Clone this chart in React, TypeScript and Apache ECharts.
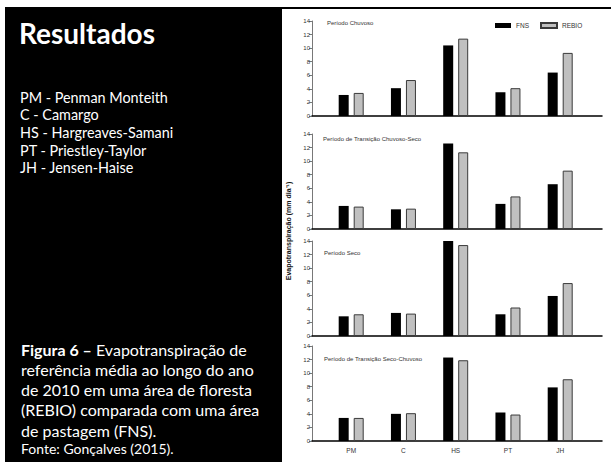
import React, { useEffect, useRef } from 'react';
import * as echarts from 'echarts';

// Métodos de estimativa da evapotranspiração de referência
const methods = ['PM', 'C', 'HS', 'PT', 'JH'];
const periods = [
  'Período Chuvoso',
  'Período de Transição Chuvoso-Seco',
  'Período Seco',
  'Período de Transição Seco-Chuvoso',
];

// ETo média (mm dia-1) por período: FNS (pastagem) e REBIO (floresta)
const fnsChuvoso = [3.1, 4.1, 10.4, 3.5, 6.4];
const rebioChuvoso = [3.4, 5.3, 11.4, 4.1, 9.3];
const fnsChuvosoSeco = [3.4, 2.9, 12.6, 3.7, 6.6];
const rebioChuvosoSeco = [3.3, 3.0, 11.3, 4.8, 8.6];
const fnsSeco = [2.9, 3.4, 14.0, 3.2, 5.9];
const rebioSeco = [3.2, 3.3, 13.4, 4.2, 7.8];
const fnsSecoChuvoso = [3.4, 4.0, 12.3, 4.2, 7.9];
const rebioSecoChuvoso = [3.4, 4.1, 11.9, 3.9, 9.1];

const fnsByPeriod = [fnsChuvoso, fnsChuvosoSeco, fnsSeco, fnsSecoChuvoso];
const rebioByPeriod = [rebioChuvoso, rebioChuvosoSeco, rebioSeco, rebioSecoChuvoso];

const methodNames = [
  'PM - Penman Monteith',
  'C - Camargo',
  'HS - Hargreaves-Samani',
  'PT - Priestley-Taylor',
  'JH - Jensen-Haise',
];

const captionLines = [
  '{b|Figura 6 –} Evapotranspiração de',
  'referência média ao longo do ano',
  'de 2010 em uma área de floresta',
  '(REBIO) comparada com uma área',
  'de pastagem (FNS).',
];

const yTickValues = [0, 2, 4, 6, 8, 10, 12, 14];

const CHART_FONT = 'Liberation Sans, Arial, sans-serif';
const SLIDE_FONT = 'Lato, "Open Sans", sans-serif';

const gridTops = [21, 134, 241, 346];
const gridHeight = 95;
const titleTops = [20, 136, 250, 356];
const titleLefts = [327, 323, 324, 324];

export default function App() {
  const ref = useRef<HTMLDivElement>(null);

  useEffect(() => {
    if (!ref.current) return;
    const chart = echarts.init(ref.current, undefined, { renderer: 'svg' });

    const grids = gridTops.map((top) => ({ left: 312, right: 9, top, height: gridHeight }));

    const xAxes = gridTops.map((_, i) => ({
      type: 'value',
      gridIndex: i,
      min: 0.25,
      max: 5.8,
      splitLine: { show: false },
      axisTick: { show: false },
      axisLine: { onZero: false, lineStyle: { color: '#000', width: 1.5 } },
      axisLabel: {
        show: i === gridTops.length - 1,
        customValues: [1, 2, 3, 4, 5],
        formatter: (v: number) => methods[Math.round(v) - 1] ?? '',
        fontSize: 6.5,
        color: '#333',
        fontFamily: CHART_FONT,
        margin: 6,
      },
    }));

    const yAxes = gridTops.map((_, i) => ({
      type: 'value',
      gridIndex: i,
      min: yTickValues[0],
      max: yTickValues[yTickValues.length - 1],
      interval: 2,
      splitLine: { show: false },
      axisLine: { show: true, onZero: false, lineStyle: { color: '#555', width: 0.8 } },
      axisTick: { show: true, length: 3, lineStyle: { color: '#555', width: 0.8 } },
      axisLabel: { fontSize: 6, color: '#333', fontFamily: CHART_FONT, margin: 2 },
    }));

    const series: any[] = [];
    gridTops.forEach((_, i) => {
      series.push({
        type: 'bar',
        name: 'FNS',
        xAxisIndex: i,
        yAxisIndex: i,
        barWidth: 10,
        barGap: '50%',
        itemStyle: { color: '#000' },
        data: fnsByPeriod[i].map((v, k) => [k + 1, v]),
      });
      series.push({
        type: 'bar',
        name: 'REBIO',
        xAxisIndex: i,
        yAxisIndex: i,
        barWidth: 10,
        barGap: '50%',
        itemStyle: { color: '#c0c0c0', borderColor: '#3a3a3a', borderWidth: 1 },
        data: rebioByPeriod[i].map((v, k) => [k + 1, v]),
      });
    });

    const titles = periods.map((text, i) => ({
      text,
      left: titleLefts[i],
      top: titleTops[i],
      padding: 0,
      textStyle: { fontSize: 6, fontWeight: 'normal', color: '#333', fontFamily: CHART_FONT },
    }));

    const graphics: any[] = [
      // slide background and figure panel
      { type: 'rect', z: -100, silent: true, shape: { x: 5, y: 7, width: 606, height: 455 }, style: { fill: '#000' } },
      { type: 'rect', z: -90, silent: true, shape: { x: 282, y: 9, width: 329, height: 453 }, style: { fill: '#fff' } },
      {
        type: 'text',
        z: 10,
        x: 19,
        y: 33,
        style: {
          text: 'Resultados',
          fill: '#fff',
          font: `bold 28px ${SLIDE_FONT}`,
          textVerticalAlign: 'middle',
        },
      },
      ...methodNames.map((t, i) => ({
        type: 'text',
        z: 10,
        x: 20,
        y: 97 + i * 17.7,
        style: { text: t, fill: '#fff', font: `14.4px ${SLIDE_FONT}`, textVerticalAlign: 'middle' },
      })),
      ...captionLines.map((t, i) => ({
        type: 'text',
        z: 10,
        x: 21,
        y: 349 + i * 20.25,
        style: {
          text: t,
          fill: '#fff',
          font: `16px ${SLIDE_FONT}`,
          textVerticalAlign: 'middle',
          rich: { b: { fontWeight: 'bold', fontSize: 16, fontFamily: SLIDE_FONT, fill: '#fff' } },
        },
      })),
      {
        type: 'text',
        z: 10,
        x: 21,
        y: 448,
        style: { text: 'Fonte: Gonçalves (2015).', fill: '#fff', font: `14px ${SLIDE_FONT}`, textVerticalAlign: 'middle' },
      },
      {
        type: 'text',
        z: 10,
        x: 288,
        y: 231,
        rotation: Math.PI / 2,
        style: {
          text: 'Evapotranspiração (mm dia⁻¹)',
          fill: '#111',
          font: `bold 7px ${CHART_FONT}`,
          textAlign: 'center',
          textVerticalAlign: 'middle',
        },
      },
    ];

    chart.setOption({
      animation: false,
      backgroundColor: '#fff',
      title: titles,
      legend: {
        data: ['FNS', 'REBIO'],
        left: 495,
        top: 22,
        padding: 0,
        itemWidth: 16,
        itemHeight: 5,
        itemGap: 11,
        icon: 'rect',
        textStyle: { fontSize: 6.5, color: '#333', fontFamily: CHART_FONT },
      },
      grid: grids,
      xAxis: xAxes,
      yAxis: yAxes,
      series,
      graphic: graphics,
    });

    return () => chart.dispose();
  }, []);

  return <div ref={ref} style={{ position: 'absolute', left: 0, top: 0, width: 611, height: 462 }} />;
}
